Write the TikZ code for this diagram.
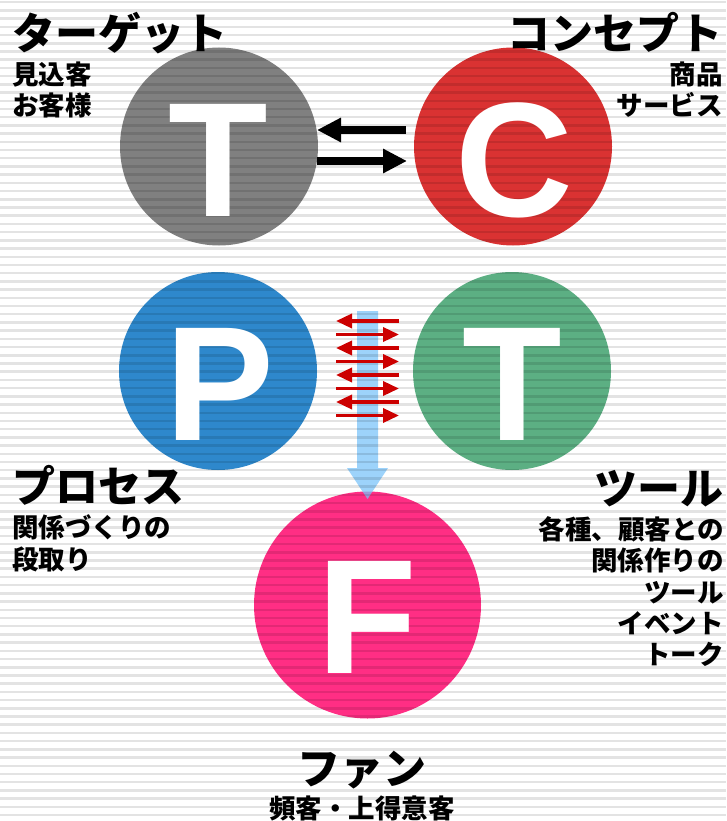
\documentclass[tikz,border=0pt]{standalone}
\usepackage{fontspec}
\setmainfont{Noto Sans CJK JP}
\newfontfamily\bigletter{Liberation Sans}
\usetikzlibrary{arrows.meta}
\definecolor{cgray}{RGB}{128,128,128}
\definecolor{cred}{RGB}{218,50,50}
\definecolor{cblue}{RGB}{46,136,204}
\definecolor{cgreen}{RGB}{92,175,131}
\definecolor{cpink}{RGB}{255,46,132}
\definecolor{arrred}{RGB}{204,0,0}
\definecolor{arrblue}{RGB}{120,195,250}
\tikzset{
  circ/.style={circle, minimum size=#1, inner sep=0pt},
  bigl/.style={text=white, font=\bigletter\bfseries\fontsize{163}{163}\selectfont, anchor=base, inner sep=0pt},
  head/.style={font=\bfseries\fontsize{43}{43}\selectfont, inner sep=0pt},
  sub/.style={font=\bfseries\fontsize{26.5}{26.5}\selectfont, inner sep=0pt},
  blk/.style={line width=8pt, -{Triangle[length=24pt,width=23pt]}},
  redarr/.style={arrred, line width=3.5pt, -{Triangle[length=16pt,width=14pt]}},
}
\begin{document}
\begin{tikzpicture}[x=1pt,y=-1pt]
\useasboundingbox (0,0) rectangle (726,821);
\fill[white] (0,0) rectangle (726,821);
% circles
\node[circ=198pt, fill=cgray] (T1) at (219,146.5) {};
\node[circ=198pt, fill=cred] (C) at (513,146.5) {};
\node[circ=198pt, fill=cblue] (P) at (218,371) {};
\node[circ=198pt, fill=cgreen] (T2) at (512,371) {};
\node[circ=227pt, fill=cpink] (F) at (367.5,605) {};
% blue arrow
\fill[arrblue, opacity=0.72] (357,311) -- (378,311) -- (378,468) -- (388,468) -- (367.5,499) -- (347,468) -- (357,468) -- cycle;
% stripes
\foreach \i in {0,...,99} {
  \fill[black, opacity=0.11] (0,{1+8.21*\i}) rectangle (726,{3.5+8.21*\i});
}
% letters
\node[bigl] (LT1) at (218,216) {T};
\node[bigl] (LC) at (514,216) {C};
\node[bigl] (LP) at (220,440) {P};
\node[bigl] (LT2) at (512,440) {T};
\node[bigl] (LF) at (367,673) {F};
% black arrows
\coordinate (a1s) at (406,130);
\coordinate (a1e) at (317,130);
\coordinate (a2s) at (317,161);
\coordinate (a2e) at (407,161);
\draw[blk] (a1s) -- (a1e);
\draw[blk] (a2s) -- (a2e);
% red arrows
\foreach \y in {321,348,375,402} {
  \coordinate (rl s) at (399,\y);
  \coordinate (rl e) at (336,\y);
  \draw[redarr] (rl s) -- (rl e);
}
\foreach \y in {334.5,361.5,388.5,415.5} {
  \coordinate (rr s) at (336,\y);
  \coordinate (rr e) at (399,\y);
  \draw[redarr] (rr s) -- (rr e);
}
% texts
\node[head, anchor=base west] (h1) at (12,50) {ターゲット};
\node[sub, anchor=base west] (s11) at (12,84.5) {見込客};
\node[sub, anchor=base west] (s12) at (12,116) {お客様};
\node[head, anchor=base east] (h2) at (723,50) {コンセプト};
\node[sub, anchor=base east] (s21) at (723,84.5) {商品};
\node[sub, anchor=base east] (s22) at (723,116) {サービス};
\node[head, anchor=base west] (h3) at (12,502) {プロセス};
\node[sub, anchor=base west] (s31) at (12,537.5) {関係づくりの};
\node[sub, anchor=base west] (s32) at (12,569) {段取り};
\node[head, anchor=base east] (h4) at (724,504) {ツール};
\node[sub, anchor=base east] (s41) at (724,539) {各種、顧客との};
\node[sub, anchor=base east] (s42) at (724,570) {関係作りの};
\node[sub, anchor=base east] (s43) at (724,602) {ツール};
\node[sub, anchor=base east] (s44) at (724,633) {イベント};
\node[sub, anchor=base east] (s45) at (724,664) {トーク};
\node[head, anchor=base] (h5) at (362,784) {ファン};
\node[sub, anchor=base] (s51) at (362,818) {頻客・上得意客};
\end{tikzpicture}
\end{document}
